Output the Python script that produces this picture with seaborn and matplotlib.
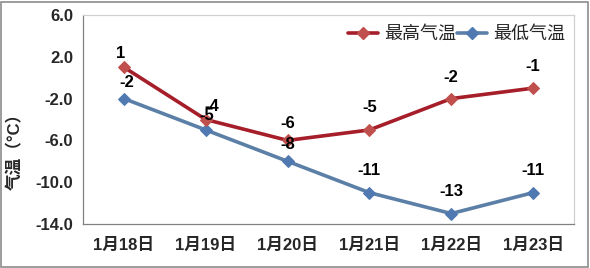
import matplotlib
matplotlib.use("Agg")
import matplotlib.pyplot as plt
import seaborn as sns
import pandas as pd
from matplotlib.patches import Rectangle
from matplotlib.lines import Line2D

dates = ["1月18日", "1月19日", "1月20日", "1月21日", "1月22日", "1月23日"]
high = [1, -4, -6, -5, -2, -1]
low = [-2, -5, -8, -11, -13, -11]
yticks = [6.0, 2.0, -2.0, -6.0, -10.0, -14.0]

# label offsets (style only, in pixels above the point)
dy_high = [14, 13, 17, 22, 21, 22]
dy_low = [16, 14, 17, 22, 22, 22]
dx_high = [-3, 6, 0, 0, 0, 0]
dx_low = [3, 1, 0, 0, 0, 0]

sns.set_theme(style="white")
FAM = ['Liberation Sans', 'Noto Sans CJK SC', 'DejaVu Sans']
plt.rcParams['font.family'] = FAM

fig = plt.figure(figsize=(5.9, 2.68), dpi=100)
ax = fig.add_axes([83/590, 1 - 224/268, (574-83)/590, (224-15)/268])

x = list(range(len(dates)))
df_h = pd.DataFrame({"x": x, "v": high})
df_l = pd.DataFrame({"x": x, "v": low})

c_high_line, c_high_mk = "#A51E2A", "#C0504D"
c_low_line, c_low_mk = "#5B7FA6", "#4F79B0"
LW = 2.6

sns.lineplot(data=df_l, x="x", y="v", ax=ax, color=c_low_line, lw=LW,
             marker="D", markersize=6, markerfacecolor=c_low_mk,
             markeredgecolor=c_low_mk)
sns.lineplot(data=df_h, x="x", y="v", ax=ax, color=c_high_line, lw=LW,
             marker="D", markersize=6, markerfacecolor=c_high_mk,
             markeredgecolor=c_high_mk)

PX = 72 / 100.0
for xi, v, dy, dx in zip(x, low, dy_low, dx_low):
    ax.annotate(f"{v}", (xi, v), xytext=(dx * PX, dy * PX), textcoords="offset points",
                ha="center", va="center", fontsize=12, fontweight="bold", color="black")
for xi, v, dy, dx in zip(x, high, dy_high, dx_high):
    ax.annotate(f"{v}", (xi, v), xytext=(dx * PX, dy * PX), textcoords="offset points",
                ha="center", va="center", fontsize=12, fontweight="bold", color="black")

ax.set_xlim(-0.5, 5.5)
ax.set_ylim(-14, 6)
ax.set_yticks(yticks)
ax.set_yticklabels([f"{t:.1f}" for t in yticks], fontsize=12, fontweight="bold")
ax.set_xticks(x)
ax.set_xticklabels(dates, fontsize=12, fontweight="bold")
ax.set_xlabel("")
ax.set_ylabel("气温（°C）", fontsize=12, fontweight="bold")
ax.yaxis.set_label_coords((23 - 83) / 491, (224 - 147) / 209)
ax.tick_params(axis="x", direction="out", length=4, color="#808080", pad=6, width=0.8)
ax.tick_params(axis="y", direction="out", length=5, color="#808080", pad=2, width=0.8)

ax.spines["left"].set_color("#808080")
ax.spines["bottom"].set_color("#808080")
ax.spines["top"].set_color("#D0D0D0")
ax.spines["right"].set_color("#D0D0D0")
for s in ax.spines.values():
    s.set_linewidth(0.9)
    s.set_visible(True)

handles = [
    Line2D([], [], color=c_high_line, lw=LW, marker="D", markersize=6,
           markerfacecolor=c_high_mk, markeredgecolor=c_high_mk),
    Line2D([], [], color=c_low_line, lw=LW, marker="D", markersize=6,
           markerfacecolor=c_low_mk, markeredgecolor=c_low_mk),
]
ax.legend(handles, ["最高气温", "最低气温"], loc="upper right", ncol=2, frameon=False,
          prop={"family": FAM, "size": 13}, handlelength=1.7, handletextpad=0.35,
          columnspacing=0.0, bbox_to_anchor=(1.005, 1.0), borderaxespad=0.2)

fig.add_artist(Rectangle((1/590, 1/268), 587/590, 265/268, transform=fig.transFigure,
                         fill=False, edgecolor="#8C8C8C", lw=1.2))

fig.savefig("out.png", dpi=100)
